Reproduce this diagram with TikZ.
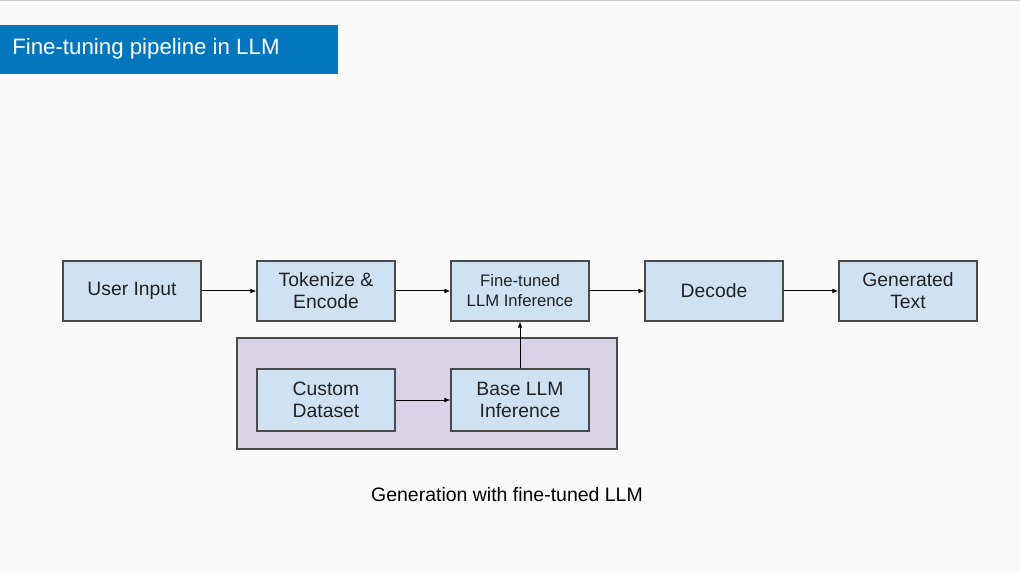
\documentclass[tikz,border=0pt]{standalone}
\usepackage{fontspec}
\setmainfont{Liberation Sans}
\usetikzlibrary{arrows.meta}
\definecolor{bgc}{HTML}{FAFAFA}
\definecolor{topline}{HTML}{CCCCCC}
\definecolor{titleblue}{HTML}{0277BD}
\definecolor{boxfill}{HTML}{CFE2F3}
\definecolor{boxline}{HTML}{4A4A4A}
\definecolor{purplefill}{HTML}{D9D2E9}
\definecolor{textc}{HTML}{222222}
\tikzset{
  stepbox/.style={draw=boxline, fill=boxfill, line width=0.8pt, inner sep=0pt,
    minimum width=103.5pt, minimum height=45pt, align=center, text=textc,
    font=\fontsize{14.5}{16.5}\selectfont},
  smalltext/.style={font=\fontsize{12.5}{15}\selectfont},
  conn/.style={draw=black, line width=0.75pt, -{Latex[length=4.5pt,width=3.5pt]}},
}
\begin{document}
\begin{tikzpicture}[x=0.75pt,y=-0.75pt]
\useasboundingbox (0,0) rectangle (1020,573);
\fill[bgc] (0,0) rectangle (1020,573);
\fill[topline] (0,0) rectangle (1020,1.5);
% title
\fill[titleblue] (0,25) rectangle (338,74);
\node[anchor=west, text=white, inner sep=0pt, font=\fontsize{16.7}{20}\selectfont] (title) at (12,49) {Fine-tuning pipeline in LLM};
% purple group
\draw[draw=boxline, fill=purplefill, line width=0.8pt] (237,338) rectangle (617,449);
% nodes
\node[stepbox] (user) at (132,291) {User Input};
\node[stepbox] (tok) at (326,291) {Tokenize \&\\Encode};
\node[stepbox, smalltext] (ft) at (520,291) {Fine-tuned\\LLM Inference};
\node[stepbox] (dec) at (714,291) {Decode};
\node[stepbox] (gen) at (908,291) {Generated\\Text};
\node[stepbox, minimum height=46.5pt] (cust) at (326,400) {Custom\\Dataset};
\node[stepbox, minimum height=46.5pt] (base) at (520,400) {Base LLM\\Inference};
% connectors
\draw[conn] (user) -- (tok);
\draw[conn] (tok) -- (ft);
\draw[conn] (ft) -- (dec);
\draw[conn] (dec) -- (gen);
\draw[conn] (cust) -- (base);
\draw[conn] (base) -- (ft);
% caption
\node[text=black, inner sep=0pt, font=\fontsize{14.6}{17}\selectfont] (cap) at (507,495) {Generation with fine-tuned LLM};
\end{tikzpicture}
\end{document}
